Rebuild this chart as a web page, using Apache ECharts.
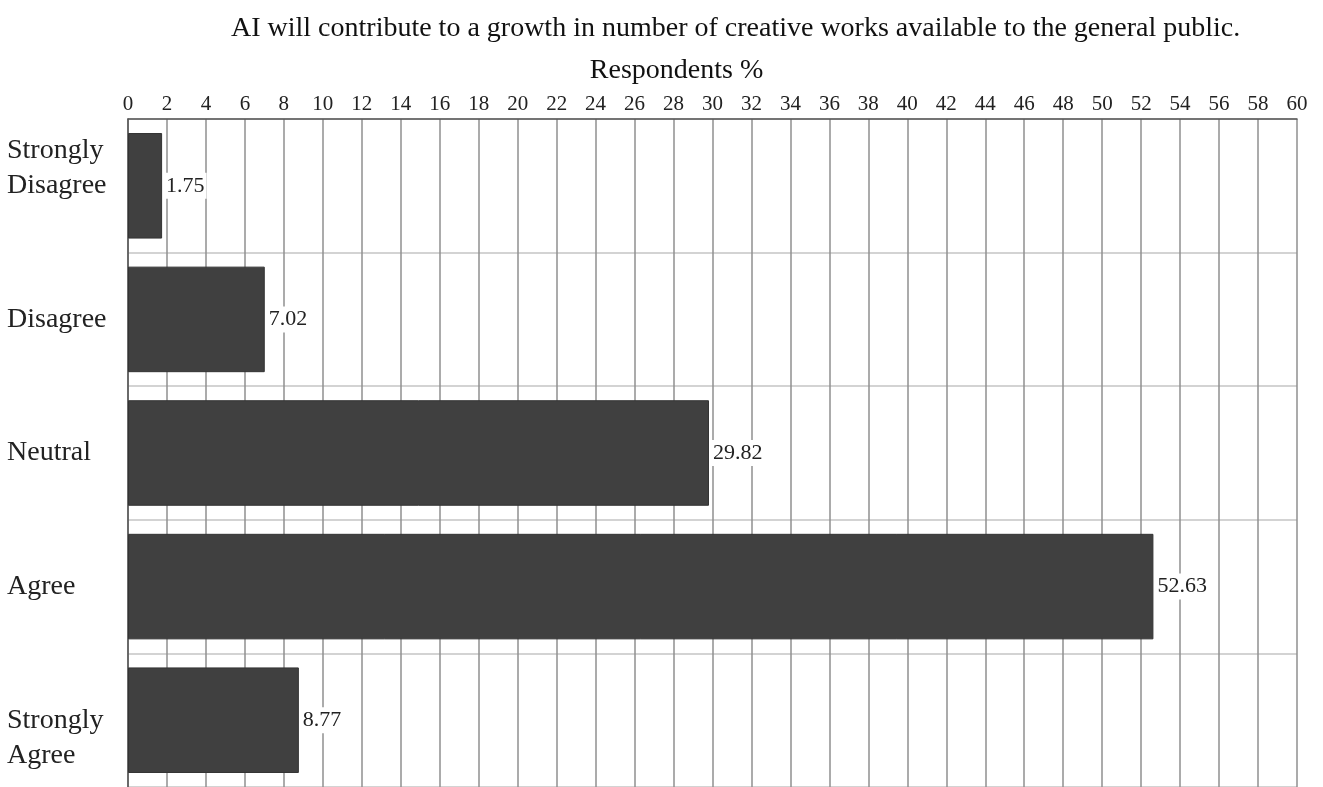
<!DOCTYPE html>
<html><head><meta charset="utf-8">
<script src="https://cdn.jsdelivr.net/npm/echarts@6/dist/echarts.min.js"></script>
<style>html,body{margin:0;padding:0;background:#fff}#c{width:1323px;height:787px}</style>
</head><body><div id="c"></div>
<script>
const titleText = 'AI will contribute to a growth in number of creative works available to the general public.';
const axisName = 'Respondents %';
const categories = ['Strongly\nDisagree', 'Disagree', 'Neutral', 'Agree', 'Strongly\nAgree'];
const values = [1.75, 7.02, 29.82, 52.63, 8.77];
const xMin = 0, xMax = 60, xStep = 2;

const font = 'Liberation Serif';
const chart = echarts.init(document.getElementById('c'), null, {renderer: 'canvas'});
chart.setOption({
  animation: false,
  backgroundColor: '#fff',
  title: {
    text: titleText, left: 226, top: 10,
    textStyle: {fontFamily: font, fontSize: 28, fontWeight: 'normal', color: '#111'}
  },
  grid: {left: 128, right: 26, top: 119, height: 673, containLabel: false},
  xAxis: {
    type: 'value', position: 'top', min: xMin, max: xMax, interval: xStep,
    name: axisName, nameLocation: 'middle', nameGap: 34,
    nameTextStyle: {fontFamily: font, fontSize: 28, color: '#111', padding: [0, 72, 0, 0]},
    axisLine: {show: true, lineStyle: {color: '#555', width: 1.5}},
    axisTick: {show: false},
    axisLabel: {fontFamily: font, fontSize: 21, color: '#222', margin: 4},
    splitLine: {show: true, lineStyle: {color: '#8f8f8f', width: 1.5}}
  },
  yAxis: {
    type: 'category', data: categories, inverse: true,
    axisLine: {show: true, lineStyle: {color: '#555', width: 1.5}},
    axisTick: {show: false},
    axisLabel: {
      fontFamily: font, fontSize: 28, color: '#222', align: 'left', margin: 121, lineHeight: 35,
      formatter: function (v, i) {
        if (v.indexOf('\n') < 0) return v;
        return i === 0 ? v + '\n ' : ' \n' + v;
      }
    },
    splitLine: {show: true, lineStyle: {color: '#c4c4c4', width: 1.5}}
  },
  series: [{
    type: 'bar', data: values, barWidth: '79%',
    itemStyle: {color: '#404040', borderColor: '#333', borderWidth: 1},
    label: {
      show: true, position: 'right', distance: 2,
      fontFamily: font, fontSize: 22, color: '#222',
      backgroundColor: '#fff', padding: [2, 2]
    }
  }]
});
</script></body></html>
